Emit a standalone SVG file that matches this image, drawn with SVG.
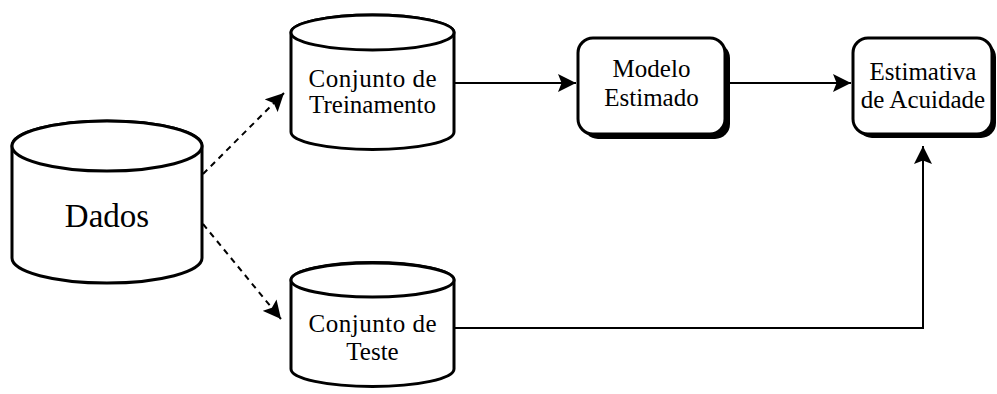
<svg xmlns="http://www.w3.org/2000/svg" width="997" height="394" viewBox="0 0 997 394">
<style>
.shape{fill:#fff;stroke:#000;stroke-width:3}
.shadow{fill:#000;stroke:none}
text{font-family:'Liberation Serif','DejaVu Serif',serif;font-size:25px;fill:#000;text-anchor:middle}
.big{font-size:33px}
.conn{fill:none;stroke:#000;stroke-width:2}
.dash{stroke-dasharray:6 5}
</style>
<defs>
<marker id="ah" viewBox="0 0 10 10" refX="10" refY="5" markerWidth="18" markerHeight="18" markerUnits="userSpaceOnUse" orient="auto">
<path d="M0,0 L10,5 L0,10 L2,5 Z" fill="#000"/>
</marker>
</defs>
<rect width="997" height="394" fill="#fff"/>
<g id="connectors">
<line class="conn dash" x1="203" y1="174" x2="284" y2="93" marker-end="url(#ah)"/>
<line class="conn dash" x1="203" y1="224" x2="281" y2="319" marker-end="url(#ah)"/>
<line class="conn" x1="455" y1="83" x2="576" y2="83" marker-end="url(#ah)"/>
<line class="conn" x1="729" y1="83" x2="851" y2="83" marker-end="url(#ah)"/>
<polyline class="conn" points="455,328 923,328 923,146" marker-end="url(#ah)"/>
</g>
<g id="dados">
<path class="shape" d="M12,146 L12,258 A95,25 0 0 0 202,258 L202,146 A95,25 0 0 0 12,146 Z"/>
<ellipse class="shape" cx="107" cy="146" rx="95" ry="25"/>
<text class="big" x="107" y="227">Dados</text>
</g>
<g id="treinamento">
<path class="shape" d="M291,32.5 L291,132 A81.5,17.5 0 0 0 454,132 L454,32.5 A81.5,17.5 0 0 0 291,32.5 Z"/>
<ellipse class="shape" cx="372.5" cy="32.5" rx="81.5" ry="17.5"/>
<text x="372.5" y="87" textLength="128">Conjunto de</text>
<text x="372.5" y="113">Treinamento</text>
</g>
<g id="teste">
<path class="shape" d="M291,280 L291,369 A81.5,17.5 0 0 0 454,369 L454,280 A81.5,17.5 0 0 0 291,280 Z"/>
<ellipse class="shape" cx="372.5" cy="280" rx="81.5" ry="17"/>
<text x="372.5" y="332" textLength="128">Conjunto de</text>
<text x="372.5" y="360">Teste</text>
</g>
<g id="modelo">
<rect class="shadow" x="583" y="43" width="147" height="96" rx="15"/>
<rect class="shape" x="578" y="38" width="147" height="96" rx="15"/>
<text x="651.5" y="77">Modelo</text>
<text x="651.5" y="106">Estimado</text>
</g>
<g id="estimativa">
<rect class="shadow" x="857" y="42" width="139" height="96" rx="15"/>
<rect class="shape" x="853" y="38" width="139" height="96" rx="15"/>
<text x="923" y="80">Estimativa</text>
<text x="923" y="108">de Acuidade</text>
</g>
</svg>
